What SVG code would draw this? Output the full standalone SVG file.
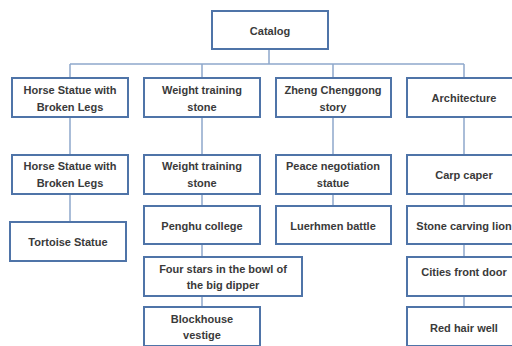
<svg xmlns="http://www.w3.org/2000/svg" width="512" height="346" viewBox="0 0 512 346">
<style>
.box{fill:#fff;stroke:#4f74a8;stroke-width:2}
.lbl{font-family:"Liberation Sans",Arial,sans-serif;font-size:11px;font-weight:bold;fill:#3a3a3a;text-anchor:middle}
.con{stroke:#8ea8cb;stroke-width:1.5;fill:none}
</style>
<rect width="512" height="346" fill="#fff"/>
<g id="connectors">
<path class="con" d="M269 49V64M70 64H464M70 64V78M202 64V78M333 64V78M464 64V78"/>
<path class="con" d="M70 117V155M70 194V222"/>
<path class="con" d="M202 117V155M202 194V206M202 244V257M202 296V307"/>
<path class="con" d="M333 117V155M333 194V206"/>
<path class="con" d="M464 117V155M464 194V206M464 244V257M464 296V307"/>
</g>
<g id="catalog"><rect class="box" x="212" y="11" width="116" height="38"/><text class="lbl" x="270" y="35">Catalog</text></g>
<g id="horse1"><rect class="box" x="12" y="78" width="116" height="39"/><text class="lbl" x="70" y="94">Horse Statue with</text><text class="lbl" x="70" y="111">Broken Legs</text></g>
<g id="weight1"><rect class="box" x="144" y="78" width="116" height="39"/><text class="lbl" x="202" y="94">Weight training</text><text class="lbl" x="202" y="111">stone</text></g>
<g id="zheng"><rect class="box" x="276" y="78" width="115" height="39"/><text class="lbl" x="333" y="94">Zheng Chenggong</text><text class="lbl" x="333" y="111">story</text></g>
<g id="architecture"><rect class="box" x="407" y="78" width="115" height="39"/><text class="lbl" x="464" y="102">Architecture</text></g>
<g id="horse2"><rect class="box" x="12" y="155" width="116" height="39"/><text class="lbl" x="70" y="170">Horse Statue with</text><text class="lbl" x="70" y="187">Broken Legs</text></g>
<g id="tortoise"><rect class="box" x="10" y="222" width="116" height="39"/><text class="lbl" x="68" y="246">Tortoise Statue</text></g>
<g id="weight2"><rect class="box" x="144" y="155" width="116" height="39"/><text class="lbl" x="202" y="170">Weight training</text><text class="lbl" x="202" y="187">stone</text></g>
<g id="penghu"><rect class="box" x="144" y="206" width="116" height="38"/><text class="lbl" x="202" y="230">Penghu college</text></g>
<g id="fourstars"><rect class="box" x="144" y="257" width="158" height="39"/><text class="lbl" x="223" y="273">Four stars in the bowl of</text><text class="lbl" x="223" y="289">the big dipper</text></g>
<g id="blockhouse"><rect class="box" x="144" y="307" width="116" height="39"/><text class="lbl" x="202" y="323">Blockhouse</text><text class="lbl" x="202" y="339">vestige</text></g>
<g id="peace"><rect class="box" x="276" y="155" width="115" height="39"/><text class="lbl" x="333" y="170">Peace negotiation</text><text class="lbl" x="333" y="187">statue</text></g>
<g id="luerhmen"><rect class="box" x="276" y="206" width="115" height="38"/><text class="lbl" x="333" y="230">Luerhmen battle</text></g>
<g id="carp"><rect class="box" x="407" y="155" width="115" height="39"/><text class="lbl" x="464" y="179">Carp caper</text></g>
<g id="lion"><rect class="box" x="407" y="206" width="115" height="38"/><text class="lbl" x="464" y="230">Stone carving lion</text></g>
<g id="cities"><rect class="box" x="407" y="257" width="115" height="39"/><text class="lbl" x="464" y="276">Cities front door</text></g>
<g id="redhair"><rect class="box" x="407" y="307" width="115" height="39"/><text class="lbl" x="464" y="332">Red hair well</text></g>
</svg>
